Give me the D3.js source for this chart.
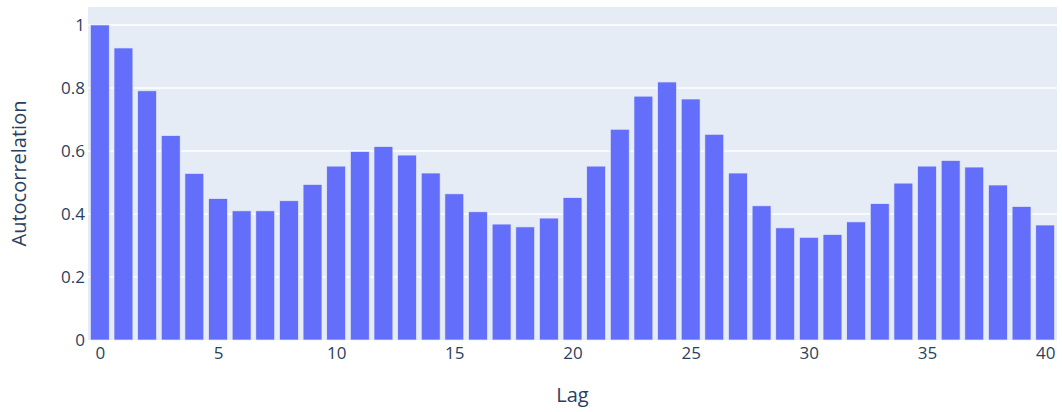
<!DOCTYPE html>
<html>
<head>
<meta charset="utf-8">
<script src="https://cdn.jsdelivr.net/npm/d3@7"></script>
<style>
  html, body { margin: 0; padding: 0; background: #fff; }
  svg { display: block; }
  text { font-family: "Open Sans", "Noto Sans", sans-serif; fill: #2a3f5f; }
</style>
</head>
<body>
<svg id="chart" width="1062" height="412"></svg>
<script>
const lags = d3.range(0, 41);
const acf = [1.0, 0.927, 0.791, 0.649, 0.529, 0.449, 0.41, 0.41, 0.442, 0.494,
             0.552, 0.598, 0.614, 0.587, 0.530, 0.464, 0.407, 0.368, 0.359, 0.387,
             0.452, 0.552, 0.669, 0.774, 0.819, 0.765, 0.653, 0.530, 0.426, 0.356,
             0.326, 0.335, 0.375, 0.433, 0.498, 0.552, 0.570, 0.549, 0.492, 0.424,
             0.365];
const xTicks = [0, 5, 10, 15, 20, 25, 30, 35, 40];
const yTicks = [0, 0.2, 0.4, 0.6, 0.8, 1];
const xTitle = "Lag";
const yTitle = "Autocorrelation";

const svg = d3.select("#chart");
const mLeft = 88, mRight = 1057, mTop = 7, mBottom = 340;

const x = d3.scaleLinear().domain([-0.5, 40.5]).range([mLeft, mRight]);
const y = d3.scaleLinear().domain([0, 1.057]).range([mBottom, mTop]);
const step = x(1) - x(0);
const bw = step * 0.8;

svg.append("rect").attr("x", mLeft).attr("y", mTop)
  .attr("width", mRight - mLeft).attr("height", mBottom - mTop)
  .attr("fill", "#E5ECF6");

// horizontal grid only
svg.append("g").selectAll("line").data(yTicks.filter(d => d > 0)).join("line")
  .attr("x1", mLeft).attr("x2", mRight)
  .attr("y1", d => y(d)).attr("y2", d => y(d))
  .attr("stroke", "#fff").attr("stroke-width", 1.4);

// bars
svg.append("g").selectAll("rect").data(lags).join("rect")
  .attr("x", d => x(d) - bw / 2)
  .attr("width", bw)
  .attr("y", d => y(acf[d]))
  .attr("height", d => y(0) - y(acf[d]))
  .attr("fill", "#636efa")
  .attr("stroke", "#E5ECF6").attr("stroke-width", 0.7);

// axes
const yAxis = d3.axisLeft(y).tickValues(yTicks).tickSize(0).tickPadding(3)
  .tickFormat(d => d3.format("~g")(d));
const gy = svg.append("g").attr("transform", `translate(${mLeft},0)`).call(yAxis);
gy.select(".domain").remove();
gy.selectAll("text").style("font-size", "17px").attr("fill", "#2a3f5f").attr("dy", "0.35em");

const xAxis = d3.axisBottom(x).tickValues(xTicks).tickSize(0).tickPadding(7);
const gx = svg.append("g").attr("transform", `translate(0,${mBottom})`).call(xAxis);
gx.select(".domain").remove();
gx.selectAll("text").style("font-size", "17px").attr("fill", "#2a3f5f");

svg.append("text").attr("x", (mLeft + mRight) / 2).attr("y", 402)
  .attr("text-anchor", "middle").style("font-size", "20px").text(xTitle);
svg.append("text")
  .attr("transform", `translate(26,${(mTop + mBottom) / 2}) rotate(-90)`)
  .attr("text-anchor", "middle").style("font-size", "20px").text(yTitle);
</script>
</body>
</html>
